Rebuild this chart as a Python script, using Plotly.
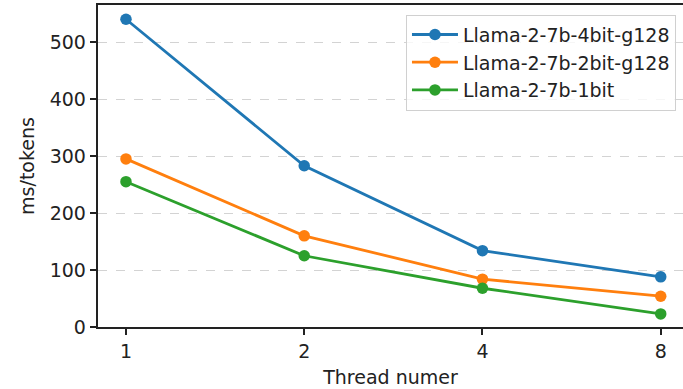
import plotly.graph_objects as go

threads = ["1", "2", "4", "8"]
llama_4bit_g128 = [540, 283, 134, 88]
llama_2bit_g128 = [295, 160, 84, 54]
llama_1bit = [255, 125, 68, 23]
series_names = ["Llama-2-7b-4bit-g128", "Llama-2-7b-2bit-g128", "Llama-2-7b-1bit"]
colors = ["#1f77b4", "#ff7f0e", "#2ca02c"]
y_ticks = [0, 100, 200, 300, 400, 500]

FONT = "DejaVu Sans"
FS = 19

fig = go.Figure()
for name, vals, c in zip(series_names, [llama_4bit_g128, llama_2bit_g128, llama_1bit], colors):
    fig.add_trace(go.Scatter(
        x=threads, y=vals, name=name, mode="lines+markers",
        line=dict(color=c, width=2.8),
        marker=dict(color=c, size=11.5),
        legendgroup=name,
    ))

fig.update_layout(
    width=683, height=389,
    margin=dict(l=98, r=0, t=5, b=62),
    plot_bgcolor="white", paper_bgcolor="white",
    font=dict(family=FONT, size=FS, color="#222222"),
    showlegend=True,
    legend=dict(
        x=0.988, y=0.97, xanchor="right", yanchor="top",
        bgcolor="rgba(255,255,255,0.8)", bordercolor="#d0d0d0", borderwidth=1,
        font=dict(family=FONT, size=FS, color="#222222"),
        traceorder="grouped", tracegroupgap=0, itemwidth=46,
    ),
    xaxis=dict(
        type="category", categoryorder="array", categoryarray=threads,
        range=[-0.157, 3.125], automargin=False,
        showline=True, linecolor="#222222", linewidth=1.5, mirror=True,
        ticks="outside", ticklen=6.5, tickwidth=1.5, tickcolor="#222222",
        showgrid=False, zeroline=False,
        title=dict(text="Thread numer", standoff=10, font=dict(family=FONT, size=FS)),
    ),
    yaxis=dict(
        range=[0, 565], tickvals=y_ticks, automargin=False,
        showline=True, linecolor="#222222", linewidth=1.5,
        ticks="outside", ticklen=6.5, tickwidth=1.5, tickcolor="#222222",
        showgrid=True, gridcolor="#d3d3d3", griddash="dash", gridwidth=1,
        zeroline=False,
        title=dict(text="ms/tokens", standoff=10, font=dict(family=FONT, size=FS)),
    ),
)

fig.write_html(
    "out.html",
    config={"displayModeBar": False},
    post_script="document.body.style.margin='0';document.body.style.overflow='hidden';",
)
